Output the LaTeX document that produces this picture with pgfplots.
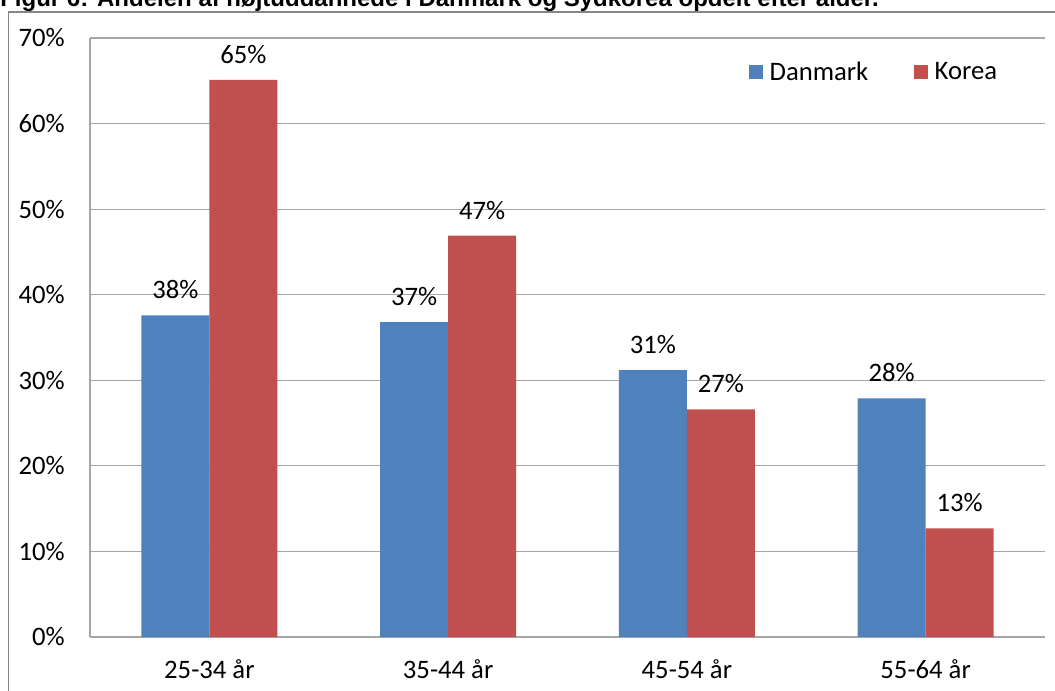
\documentclass[border=0pt]{standalone}
\usepackage{pgfplots}
\pgfplotsset{compat=1.18}
\usepackage{fontspec}
\setmainfont{Carlito}
\newfontfamily\titlefont{Liberation Sans}
\definecolor{blueC}{HTML}{4F81BD}
\definecolor{redC}{HTML}{C0504D}
\definecolor{gridC}{HTML}{A6A6A6}
\definecolor{frameC}{HTML}{868686}
\begin{document}
\begin{tikzpicture}
\useasboundingbox (0pt,0pt) rectangle (791.25pt,-518.25pt);
\clip (0pt,0pt) rectangle (791.25pt,-518.25pt);
\draw[frameC, line width=1.2pt] (6.4pt,-540pt) -- (6.4pt,-9pt) -- (810pt,-9pt);
\node[anchor=base west, inner sep=0pt] at (0pt,-4.9pt) {\titlefont\bfseries\fontsize{18}{20}\selectfont Figur 6: Andelen af højtuddannede i Danmark og Sydkorea opdelt efter alder.};
\begin{axis}[
  at={(67.5pt,-477.75pt)}, anchor=south west,
  scale only axis, width=716.25pt, height=449.25pt,
  /pgf/number format/assume math mode=true,
  ybar=0pt, bar width=51pt,
  xmin=-0.5, xmax=3.5, ymin=0, ymax=70,
  xtick={0,1,2,3}, xticklabels={25-34 år,35-44 år,45-54 år,55-64 år},
  ytick={0,10,...,70},
  yticklabel={\pgfmathprintnumber{\tick}\%},
  axis x line*=bottom, axis y line*=left,
  axis line style={draw=gridC, line width=0.9pt},
  ymajorgrids, grid style={draw=gridC, line width=0.9pt},
  major tick length=0pt,
  tick label style={font=\fontsize{20}{23}\selectfont},
  yticklabel style={anchor=east, inner sep=0pt, xshift=-18.75pt},
  xticklabel style={anchor=north, inner sep=0pt, yshift=-17pt},
  nodes near coords={\pgfmathprintnumber[fixed,precision=0,assume math mode=true]{\pgfplotspointmeta}\%},
  nodes near coords style={font=\fontsize{20}{23}\selectfont, anchor=south, inner sep=0pt, yshift=12pt},
  legend style={at={(0.69,0.943)}, anchor=west, draw=none, fill=none, inner sep=0pt, outer sep=0pt,
    font=\fontsize{20}{23}\selectfont,
    /tikz/every odd column/.append style={column sep=3pt},
    /tikz/every even column/.append style={column sep=32.25pt}},
  legend columns=2, legend cell align=left,
  legend image code/.code={\fill[#1] (0pt,-5.25pt) rectangle (10.5pt,5.25pt);},
]
\addplot[fill=blueC, draw=none] coordinates {(0,37.6) (1,36.8) (2,31.2) (3,27.9)};
\addplot[fill=redC, draw=none] coordinates {(0,65.1) (1,46.9) (2,26.6) (3,12.7)};
\legend{Danmark,Korea}
\end{axis}
\end{tikzpicture}
\end{document}
